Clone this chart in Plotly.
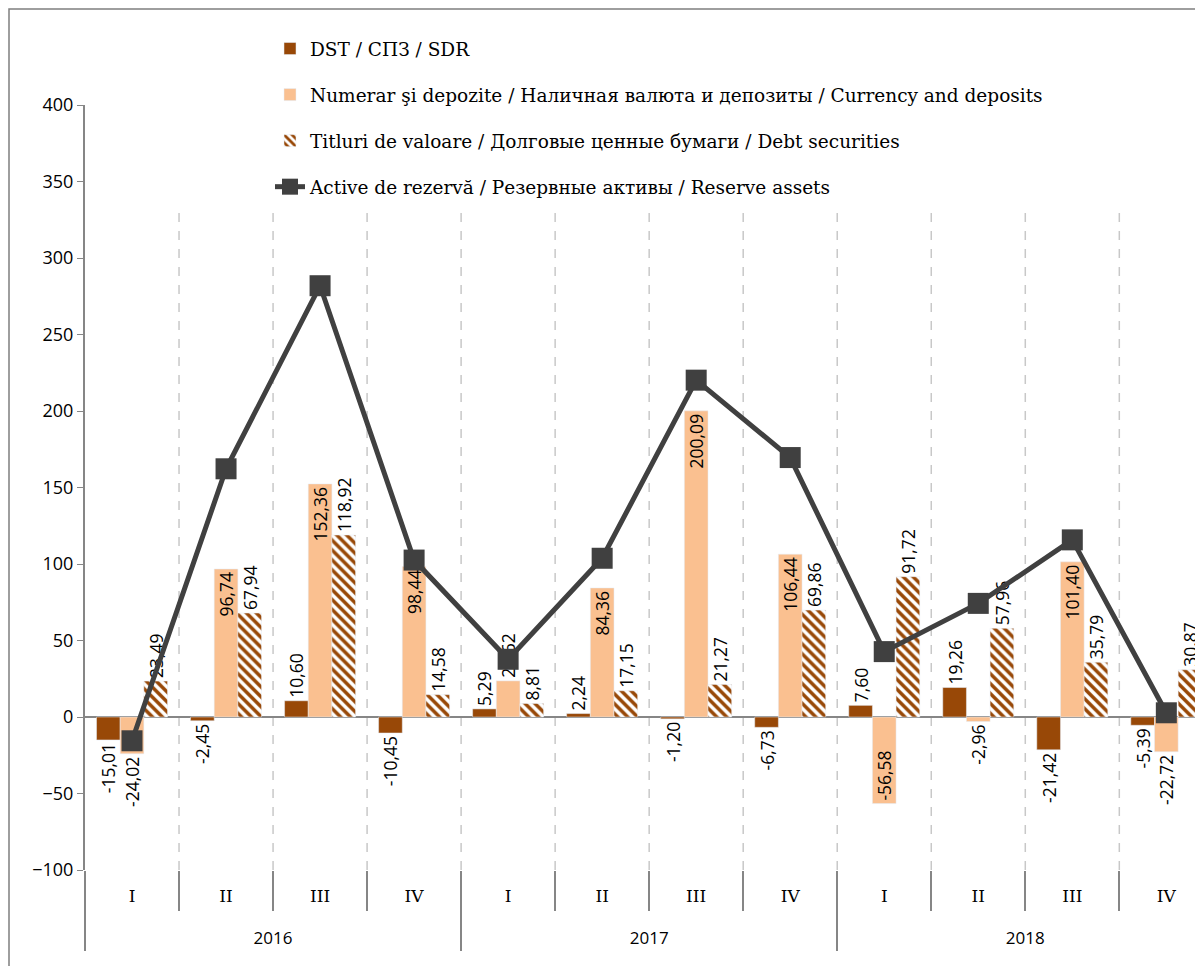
import plotly.graph_objects as go

years = ["2016", "2017", "2018"]
quarters = ["I", "II", "III", "IV"] * 3

dst = [-15.01, -2.45, 10.60, -10.45, 5.29, 2.24, -1.20, -6.73, 7.60, 19.26, -21.42, -5.39]
numerar = [-24.02, 96.74, 152.36, 98.44, 23.62, 84.36, 200.09, 106.44, -56.58, -2.96, 101.40, -22.72]
titluri = [23.49, 67.94, 118.92, 14.58, 8.81, 17.15, 21.27, 69.86, 91.72, 57.96, 35.79, 30.87]
rezerva = [-15.54, 162.23, 281.88, 102.57, 37.72, 103.75, 220.16, 169.57, 42.74, 74.26, 115.77, 2.76]

numerar_pos = ["outside", "inside", "inside", "inside", "outside", "inside",
               "inside", "inside", "inside", "outside", "inside", "outside"]

names = [
    "DST / СПЗ / SDR",
    "Numerar şi depozite / Наличная валюта и депозиты / Currency and deposits",
    "Titluri de valoare / Долговые ценные бумаги / Debt securities",
    "Active de rezervă / Резервные активы / Reserve assets",
]

xs = list(range(len(quarters)))
year_pos = [i * 4 + 1.5 for i in range(len(years))]


def fmt(v):
    return f"{v:.2f}".replace(".", ",")


lbl_font = dict(family="Open Sans", size=17.5, color="black")

fig = go.Figure()
fig.add_trace(go.Bar(
    x=xs, y=dst, name=names[0], legendgroup="a",
    marker_color="#984807",
    text=[fmt(v) for v in dst], textposition="outside", textangle=-90,
    textfont=lbl_font, constraintext="none", cliponaxis=False,
))
fig.add_trace(go.Bar(
    x=xs, y=numerar, name=names[1], legendgroup="b",
    marker_color="#FAC090",
    text=[fmt(v) for v in numerar], textposition=numerar_pos, textangle=-90,
    textfont=lbl_font, insidetextanchor="end", constraintext="none", cliponaxis=False,
))
fig.add_trace(go.Bar(
    x=xs, y=titluri, name=names[2], legendgroup="c",
    marker=dict(color="white",
                pattern=dict(shape="\\", fgcolor="#984807", bgcolor="white",
                             size=7, solidity=0.5, fillmode="replace")),
    text=[fmt(v) for v in titluri], textposition="outside", textangle=-90,
    textfont=lbl_font, constraintext="none", cliponaxis=False,
))
fig.add_trace(go.Scatter(
    x=xs, y=rezerva, name=names[3], legendgroup="d",
    mode="lines+markers",
    line=dict(color="#404040", width=5),
    marker=dict(symbol="square", size=21, color="#404040"),
))

# dashed separators between quarters
for i in range(1, 12):
    fig.add_shape(type="line", xref="x", yref="y", x0=i - 0.5, x1=i - 0.5, y0=-100, y1=331,
                  line=dict(color="#C8C8C8", width=1.5, dash="dash"), layer="below")

# outer frame
fig.add_shape(type="rect", xref="paper", yref="paper",
              x0=-76 / 1118, x1=1.2, y0=-0.2, y1=1 + 96 / 765,
              line=dict(color="#7F7F7F", width=1.5))

fig.update_layout(
    width=1203, height=966,
    margin=dict(l=77, r=8, t=97, b=104),
    plot_bgcolor="white", paper_bgcolor="white",
    barmode="group", bargap=0.245, bargroupgap=0,
    showlegend=True,
    legend=dict(x=185 / 1118, y=1 + 75 / 765, xanchor="left", yanchor="top",
                bgcolor="rgba(255,255,255,0)", tracegroupgap=19,
                font=dict(family="DejaVu Serif", size=18.5, color="black")),
    xaxis=dict(
        range=[-0.5, 11.39], automargin=False,
        tickvals=xs, ticktext=quarters, ticks="", ticklabelstandoff=14,
        showgrid=False, showline=False, zeroline=False,
        minor=dict(tickvals=[i - 0.5 for i in range(13)], ticks="outside",
                   ticklen=40, tickcolor="#868686", tickwidth=2, showgrid=False),
        tickfont=dict(family="DejaVu Serif", size=17, color="black"),
    ),
    xaxis2=dict(
        overlaying="x", anchor="free", position=0, side="bottom",
        range=[-0.5, 11.39], automargin=False,
        tickvals=year_pos, ticktext=years, ticks="", ticklabelstandoff=56,
        showgrid=False, showline=False, zeroline=False,
        minor=dict(tickvals=[i * 4 - 0.5 for i in range(4)], ticks="outside",
                   ticklen=80, tickcolor="#868686", tickwidth=2, showgrid=False),
        tickfont=dict(family="Open Sans", size=17, color="black"),
    ),
    yaxis=dict(
        range=[-100, 400], dtick=50, showgrid=False, automargin=False,
        showline=True, linecolor="#868686", linewidth=2,
        ticks="outside", ticklen=6, tickcolor="#868686",
        zeroline=True, zerolinecolor="#868686", zerolinewidth=2,
        tickfont=dict(family="Open Sans", size=18, color="black"),
    ),
)
# invisible trace so the year axis is drawn
fig.add_trace(go.Scatter(x=[0], y=[None], xaxis="x2", showlegend=False, hoverinfo="skip"))

fig.write_html("out.html")
